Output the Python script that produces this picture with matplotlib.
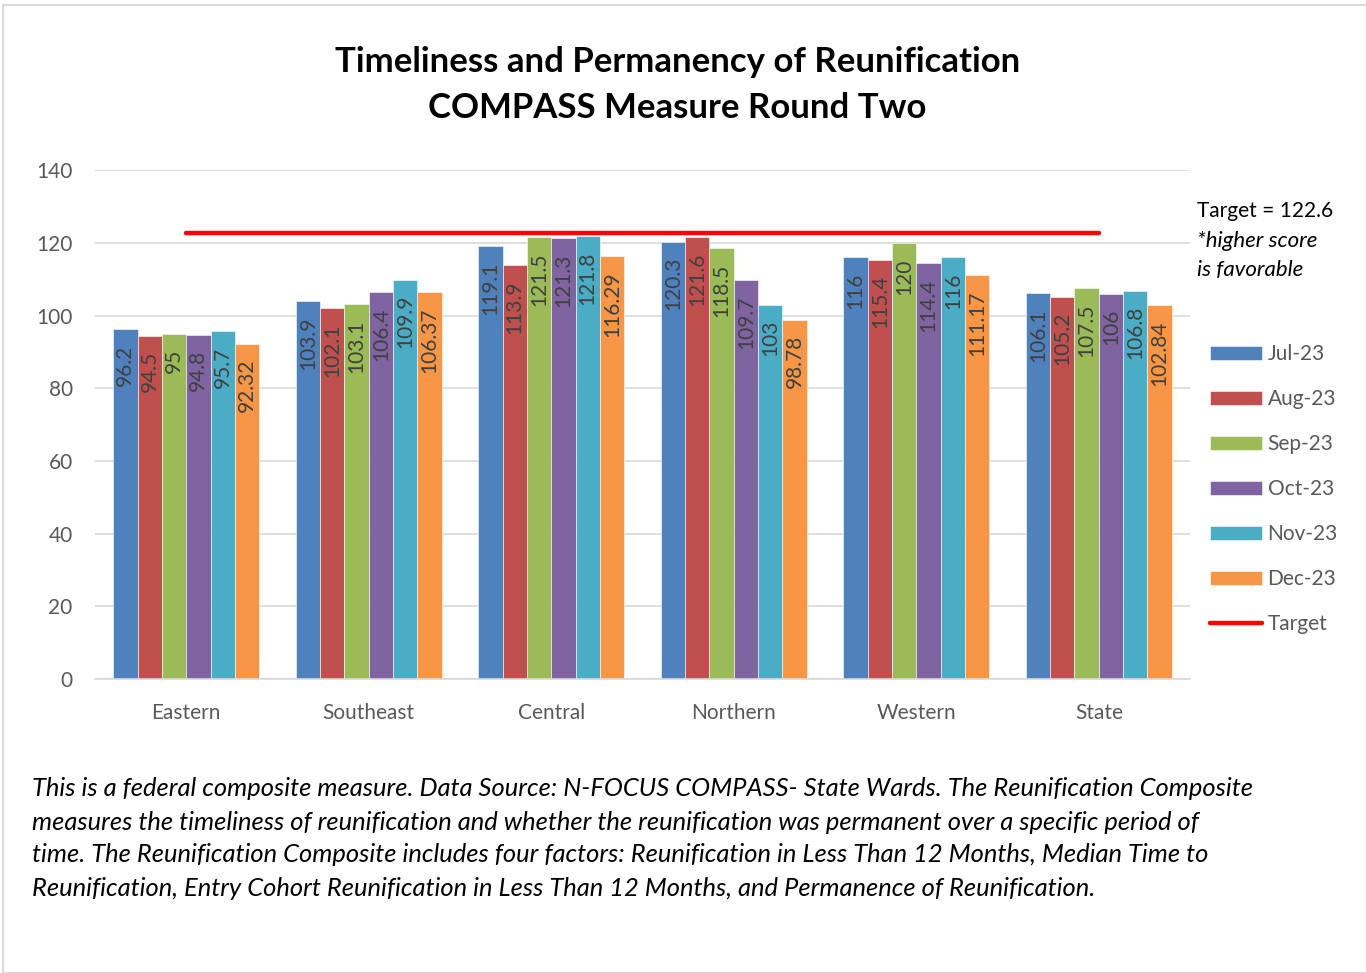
import matplotlib.pyplot as plt
import numpy as np
from matplotlib.patches import Rectangle

plt.rcParams['font.family'] = ['Lato', 'DejaVu Sans']

regions = ['Eastern', 'Southeast', 'Central', 'Northern', 'Western', 'State']
months = ['Jul-23', 'Aug-23', 'Sep-23', 'Oct-23', 'Nov-23', 'Dec-23']

jul = [96.2, 103.9, 119.1, 120.3, 116, 106.1]
aug = [94.5, 102.1, 113.9, 121.6, 115.4, 105.2]
sep = [95, 103.1, 121.5, 118.5, 120, 107.5]
oct_ = [94.8, 106.4, 121.3, 109.7, 114.4, 106]
nov = [95.7, 109.9, 121.8, 103, 116, 106.8]
dec = [92.32, 106.37, 116.29, 98.78, 111.17, 102.84]
labels = [['96.2', '103.9', '119.1', '120.3', '116', '106.1'],
          ['94.5', '102.1', '113.9', '121.6', '115.4', '105.2'],
          ['95', '103.1', '121.5', '118.5', '120', '107.5'],
          ['94.8', '106.4', '121.3', '109.7', '114.4', '106'],
          ['95.7', '109.9', '121.8', '103', '116', '106.8'],
          ['92.32', '106.37', '116.29', '98.78', '111.17', '102.84']]
target = 122.6

colors = ['#4F81BD', '#C0504D', '#9BBB59', '#8064A2', '#4BACC6', '#F79646']
series = [jul, aug, sep, oct_, nov, dec]

fig = plt.figure(figsize=(13.66, 9.73), dpi=100)
ax = fig.add_axes([0.0695, 0.302, 0.8017, 0.5231])

x = np.arange(len(regions))
w = 0.8 / 6
handles = []
for i, (vals, c) in enumerate(zip(series, colors)):
    pos = x - 0.4 + w * (i + 0.5)
    bars = ax.bar(pos, vals, w, color=c, edgecolor='white', linewidth=0.4, zorder=2)
    handles.append(bars)
    for b, lab in zip(bars, labels[i]):
        ax.annotate(lab, (b.get_x() + b.get_width() / 2, b.get_height()),
                    xytext=(0, -11), textcoords='offset points',
                    rotation=90, ha='center', va='top',
                    fontsize=15, color='#404040', zorder=3)

tline, = ax.plot(x, [target] * len(x), color='#FF0000', lw=3.2,
                 solid_capstyle='round', zorder=4)

ax.set_xlim(-0.5, 5.5)
ax.set_ylim(0, 140)
ax.set_yticks(np.arange(0, 141, 20))
ax.set_xticks(x)
ax.set_xticklabels(regions)
ax.yaxis.grid(True, color='#D9D9D9', lw=1.2, zorder=0)
ax.set_axisbelow(True)
for s in ['top', 'right', 'left']:
    ax.spines[s].set_visible(False)
ax.spines['bottom'].set_color('#D9D9D9')
ax.spines['bottom'].set_linewidth(1.2)
ax.tick_params(axis='both', length=0, labelsize=15, labelcolor='#595959')
ax.tick_params(axis='y', pad=16)
ax.tick_params(axis='x', pad=17)

leg = fig.legend(handles + [tline], months + ['Target'],
                 loc='center left', bbox_to_anchor=(0.886, 0.497),
                 frameon=False, fontsize=15, labelcolor='#595959',
                 handlelength=2.5, handleheight=0.7, handletextpad=0.25,
                 labelspacing=1.2, borderpad=0, borderaxespad=0)

fig.text(0.496, 0.936, 'Timeliness and Permanency of Reunification',
         ha='center', va='center', fontsize=25, fontweight='bold')
fig.text(0.496, 0.889, 'COMPASS Measure Round Two',
         ha='center', va='center', fontsize=25, fontweight='bold')

fig.text(0.876, 0.783, 'Target = 122.6', fontsize=15, va='center')
fig.text(0.876, 0.752, '*higher score', fontsize=16, va='center', style='italic')
fig.text(0.876, 0.722, 'is favorable', fontsize=16, va='center', style='italic')

notes = ['This is a federal composite measure. Data Source: N-FOCUS COMPASS- State Wards. The Reunification Composite',
         'measures the timeliness of reunification and whether the reunification was permanent over a specific period of',
         'time. The Reunification Composite includes four factors: Reunification in Less Than 12 Months, Median Time to',
         'Reunification, Entry Cohort Reunification in Less Than 12 Months, and Permanence of Reunification.']
for k, line in enumerate(notes):
    fig.text(0.0234, 1 - (789 + 33 * k) / 973, line, fontsize=18.4,
             style='italic', va='center', color='black')

fig.patches.append(Rectangle((0.002, 0.0), 1.0, 0.995, transform=fig.transFigure,
                             fill=False, edgecolor='#D9D9D9', lw=1.5))

fig.savefig('out.png', dpi=100)
